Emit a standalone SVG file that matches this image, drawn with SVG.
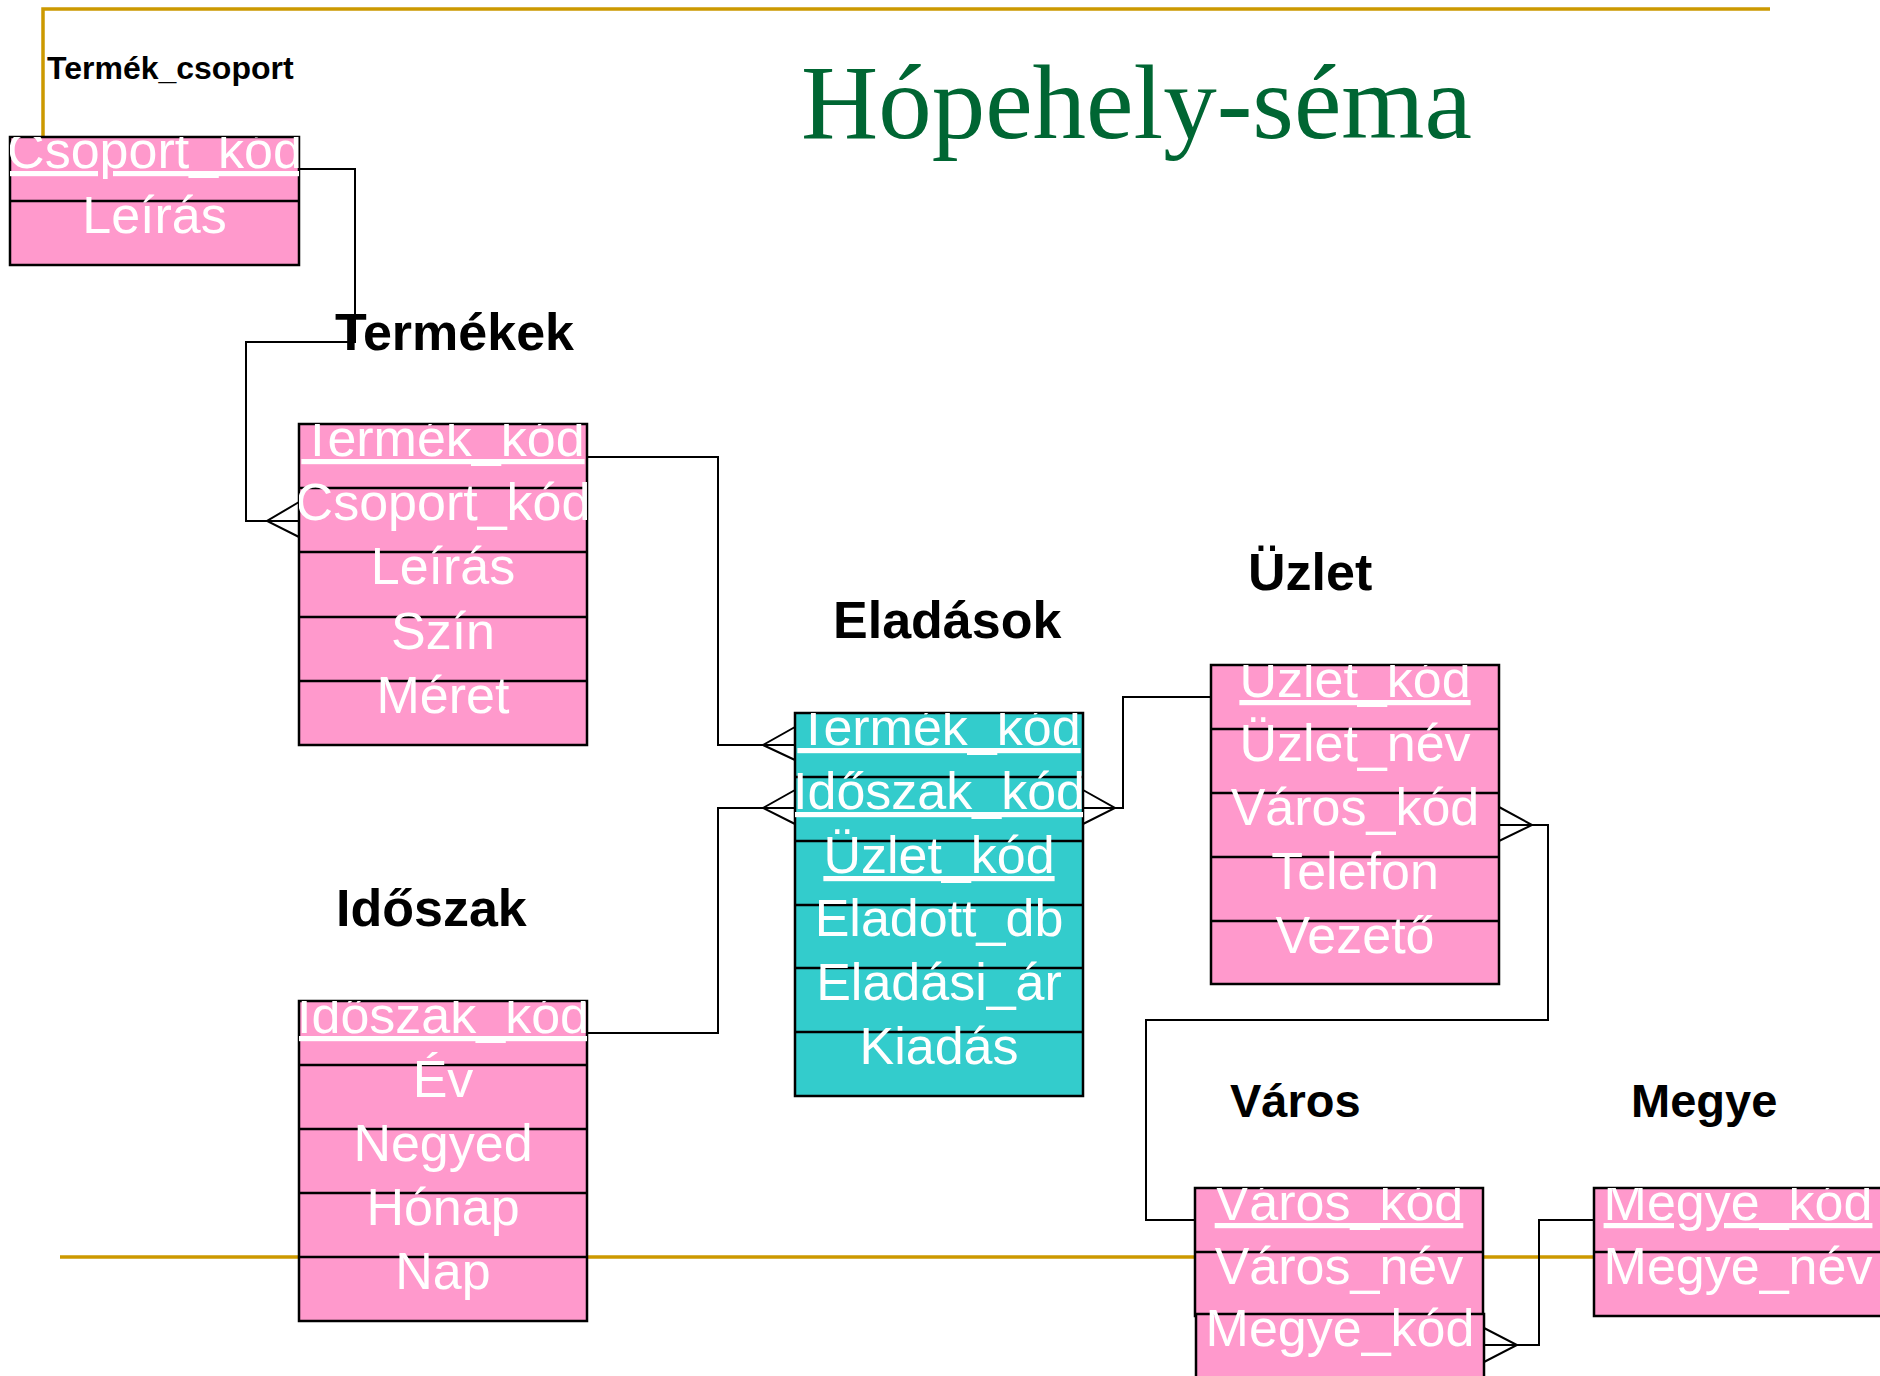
<svg xmlns="http://www.w3.org/2000/svg" width="1880" height="1376" viewBox="0 0 1880 1376">
<style>
.pink{fill:#FF99CC;stroke:#000;stroke-width:2.5}
.cyan{fill:#33CCCC;stroke:#000;stroke-width:2.5}
.sep{stroke:#000;stroke-width:2.5}
.fld{font-family:"Liberation Sans",Arial,sans-serif;font-size:52px;fill:#fff;text-anchor:middle}
.key{text-decoration:underline}
.lbl{font-family:"Liberation Sans",Arial,sans-serif;font-weight:bold;fill:#000}
.con{fill:none;stroke:#000;stroke-width:2}
.gold{fill:none;stroke:#CC9900;stroke-width:3.5}
</style>
<defs>
<clipPath id="c1"><rect x="10" y="137" width="289" height="128"/></clipPath>
<clipPath id="c2"><rect x="299" y="424" width="288" height="321"/></clipPath>
<clipPath id="c3"><rect x="795" y="713" width="288" height="383"/></clipPath>
<clipPath id="c4"><rect x="1211" y="665" width="288" height="319"/></clipPath>
<clipPath id="c5"><rect x="299" y="1001" width="288" height="320"/></clipPath>
<clipPath id="c6"><rect x="1195" y="1188" width="290" height="200"/></clipPath>
<clipPath id="c7"><rect x="1594" y="1188" width="300" height="128"/></clipPath>
</defs>
<rect width="1880" height="1376" fill="#fff"/>
<g id="frame">
<path class="gold" d="M43,137 V9 H1770"/>
<path class="gold" d="M60,1257 H1880"/>
</g>
<text id="title" x="801" y="138" font-family="'Liberation Serif','Times New Roman',serif" font-size="106" fill="#006633" textLength="671" lengthAdjust="spacingAndGlyphs">Hópehely-séma</text>
<g id="connectors">
<path class="con" d="M299,169 H355 V342 H246 V521 H299"/>
<path class="con" d="M299,502 L267,521 L299,537"/>
<path class="con" d="M587,457 H718 V745 H795"/>
<path class="con" d="M795,727 L763,745 L795,760"/>
<path class="con" d="M587,1033 H718 V808 H795"/>
<path class="con" d="M795,790 L763,808 L795,824"/>
<path class="con" d="M1211,697 H1123 V808 H1083"/>
<path class="con" d="M1083,790 L1115,808 L1083,824"/>
<path class="con" d="M1499,825 H1548 V1020 H1146 V1220 H1195"/>
<path class="con" d="M1499,807 L1532,825 L1499,841"/>
<path class="con" d="M1594,1220 H1539 V1345 H1484"/>
<path class="con" d="M1484,1328 L1517,1345 L1484,1362"/>
</g>
<g id="termek_csoport">
<text class="lbl" x="47" y="79" font-size="32">Termék_csoport</text>
<rect class="pink" x="10" y="137" width="289" height="128"/>
<line class="sep" x1="10" y1="201" x2="299" y2="201"/>
<g clip-path="url(#c1)">
<text class="fld key" x="154.5" y="168">Csoport_kód</text>
<text class="fld" x="154.5" y="233">Leírás</text>
</g>
</g>
<g id="termekek">
<text class="lbl" x="335" y="350" font-size="52">Termékek</text>
<rect class="pink" x="299" y="424" width="288" height="321"/>
<path class="sep" d="M299,488 H587 M299,552 H587 M299,617 H587 M299,681 H587"/>
<g clip-path="url(#c2)">
<text class="fld key" x="443" y="456">Termék_kód</text>
<text class="fld" x="443" y="520">Csoport_kód</text>
<text class="fld" x="443" y="584">Leírás</text>
<text class="fld" x="443" y="649">Szín</text>
<text class="fld" x="443" y="713">Méret</text>
</g>
</g>
<g id="eladasok">
<text class="lbl" x="833" y="638" font-size="52">Eladások</text>
<rect class="cyan" x="795" y="713" width="288" height="383"/>
<path class="sep" d="M795,777 H1083 M795,841 H1083 M795,905 H1083 M795,968 H1083 M795,1032 H1083"/>
<g clip-path="url(#c3)">
<text class="fld key" x="939" y="745">Termék_kód</text>
<text class="fld key" x="939" y="809">Időszak_kód</text>
<text class="fld key" x="939" y="873">Üzlet_kód</text>
<text class="fld" x="939" y="936">Eladott_db</text>
<text class="fld" x="939" y="1000">Eladási_ár</text>
<text class="fld" x="939" y="1064">Kiadás</text>
</g>
</g>
<g id="uzlet">
<text class="lbl" x="1248" y="590" font-size="52">Üzlet</text>
<rect class="pink" x="1211" y="665" width="288" height="319"/>
<path class="sep" d="M1211,729 H1499 M1211,793 H1499 M1211,857 H1499 M1211,921 H1499"/>
<g clip-path="url(#c4)">
<text class="fld key" x="1355" y="697">Üzlet_kód</text>
<text class="fld" x="1355" y="761">Üzlet_név</text>
<text class="fld" x="1355" y="825">Város_kód</text>
<text class="fld" x="1355" y="889">Telefon</text>
<text class="fld" x="1355" y="953">Vezető</text>
</g>
</g>
<g id="idoszak">
<text class="lbl" x="336" y="926" font-size="52">Időszak</text>
<rect class="pink" x="299" y="1001" width="288" height="320"/>
<path class="sep" d="M299,1065 H587 M299,1129 H587 M299,1193 H587 M299,1257 H587"/>
<g clip-path="url(#c5)">
<text class="fld key" x="443" y="1033">Időszak_kód</text>
<text class="fld" x="443" y="1097">Év</text>
<text class="fld" x="443" y="1161">Negyed</text>
<text class="fld" x="443" y="1225">Hónap</text>
<text class="fld" x="443" y="1289">Nap</text>
</g>
</g>
<g id="varos">
<text class="lbl" x="1230" y="1117" font-size="47">Város</text>
<rect class="pink" x="1195" y="1188" width="288" height="128"/>
<line class="sep" x1="1195" y1="1252" x2="1483" y2="1252"/>
<rect class="pink" x="1196" y="1314" width="288" height="90"/>
<g clip-path="url(#c6)">
<text class="fld key" x="1339" y="1220">Város_kód</text>
<text class="fld" x="1339" y="1284">Város_név</text>
<text class="fld" x="1340" y="1346">Megye_kód</text>
</g>
</g>
<g id="megye">
<text class="lbl" x="1631" y="1117" font-size="47">Megye</text>
<rect class="pink" x="1594" y="1188" width="300" height="128"/>
<line class="sep" x1="1594" y1="1252" x2="1880" y2="1252"/>
<g clip-path="url(#c7)">
<text class="fld key" x="1738" y="1220">Megye_kód</text>
<text class="fld" x="1738" y="1284">Megye_név</text>
</g>
</g>
</svg>
